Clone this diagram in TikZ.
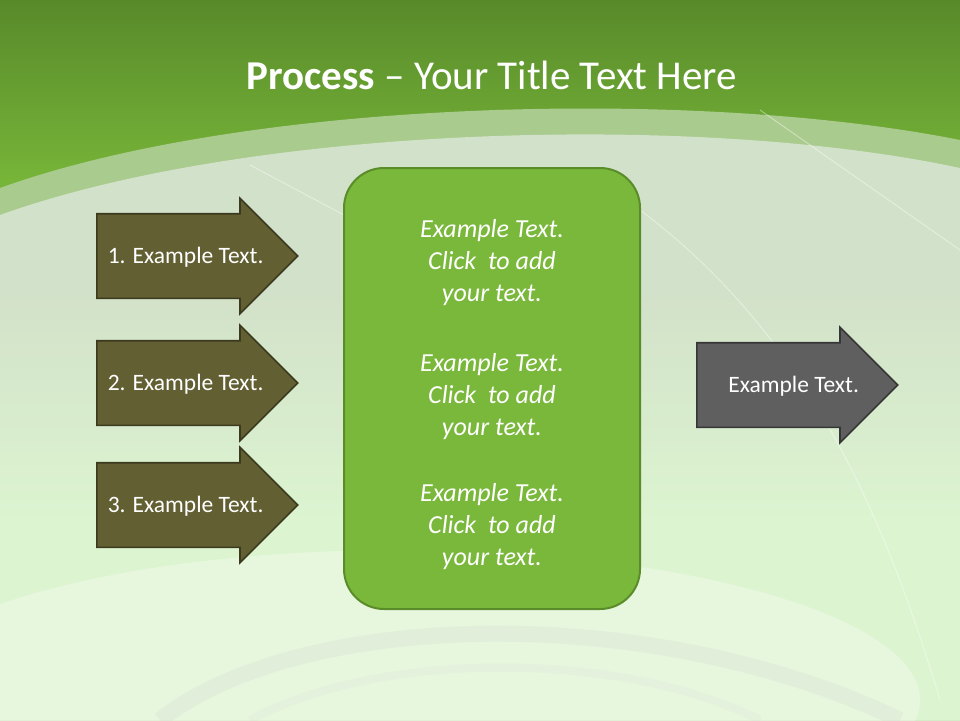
\documentclass[tikz,border=0pt]{standalone}
\usepackage{fontspec}
\setmainfont{Carlito}
\usepackage{tikz}
\usetikzlibrary{shapes, arrows.meta, positioning}
\definecolor{bgtop}{HTML}{588A2A}
\definecolor{bgmid}{HTML}{7AB93A}
\definecolor{bandout}{HTML}{A9CB8E}
\definecolor{bandin}{HTML}{D2E1C9}
\definecolor{lowgreen}{HTML}{DCF4D0}
\definecolor{olivefill}{HTML}{625F33}
\definecolor{olivedraw}{HTML}{3B3A1F}
\definecolor{greyfill}{HTML}{5F5F5F}
\definecolor{greydraw}{HTML}{363636}
\definecolor{boxfill}{HTML}{7AB83B}
\definecolor{boxdraw}{HTML}{5B8C2A}
\tikzstyle{inarrow} = [single arrow, single arrow head extend=15.5pt, single arrow tip angle=90, minimum height=201pt, inner xsep=0pt, text height=16pt, text depth=1pt, inner ysep=33pt, draw=olivedraw, line width=1.6pt, fill=olivefill, text=white, font=\fontsize{23.5}{26}\selectfont, anchor=tail]
\tikzstyle{outarrow} = [inarrow, draw=greydraw, fill=greyfill]
\tikzstyle{centerbox} = [rectangle, rounded corners=40pt, minimum width=296pt, minimum height=441pt, draw=boxdraw, line width=2pt, fill=boxfill, text=white, align=center, font=\fontsize{26}{32}\selectfont\itshape]

\begin{document}
\begin{tikzpicture}[x=1pt, y=-1pt, node distance = 127pt]
%---------------------------------BACKGROUND
\useasboundingbox (0,0) rectangle (960,720);
\shade [top color=bandin, bottom color=lowgreen] (0,0) rectangle (960,720);
\shade [top color=bgtop, bottom color=bgmid] (0,0) rectangle (960,200);
\fill [bandout] (0,188) .. controls (250,98) and (700,88) .. (960,140) -- (960,720) -- (0,720) -- cycle;
\fill [bandin] (0,215) .. controls (250,125) and (700,112) .. (960,168) -- (960,720) -- (0,720) -- cycle;
\shade [top color=bandin, bottom color=lowgreen] (0,290) rectangle (960,520);
\fill [lowgreen] (0,520) rectangle (960,720);
\fill [white, opacity=0.3] (400,700) ellipse (520 and 150);
\draw [gray!40, line width=16pt, opacity=0.2] (160,720) .. controls (300,610) and (650,600) .. (900,720);
\draw [gray!30, line width=8pt, opacity=0.2] (250,720) .. controls (380,650) and (620,650) .. (760,720);
\draw [white, line width=1pt, opacity=0.4] (250,165) -- (560,330);
\draw [white, line width=1pt, opacity=0.4] (760,110) -- (960,250);
\draw [white, line width=1pt, opacity=0.4] (640,210) .. controls (800,330) and (880,500) .. (940,700);
%---------------------------------TITLE
\node (title) [text=white, font=\fontsize{41}{48}\selectfont] at (492,75) {\textbf{Process} -- Your Title Text Here};
%---------------------------------SHAPES
\node (step1) [inarrow] at (96,256) {1. Example Text.\hspace*{-19pt}};
\node (step2) [inarrow, below of=step1] {2. Example Text.\hspace*{-19pt}};
\node (step3) [inarrow, below of=step2, yshift=5pt] {3. Example Text.\hspace*{-19pt}};
\node (hub) [centerbox] at (492,388.5) {\rule{0pt}{31pt}Example Text.\\Click~ to add\\your text.\\[38pt]Example Text.\\Click~ to add\\your text.\\[34pt]Example Text.\\Click~ to add\\your text.};
\node (result) [outarrow] at (696,385) {Example Text.\hspace*{-35pt}};
\end{tikzpicture}
\end{document}
